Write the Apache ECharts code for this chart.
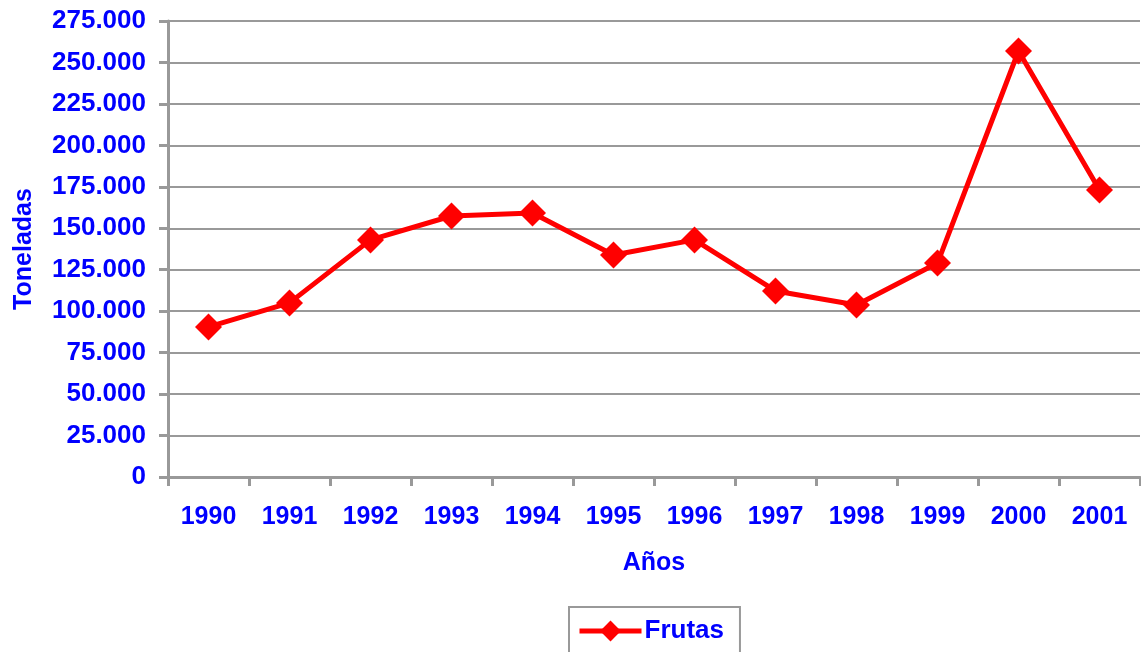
<!DOCTYPE html>
<html>
  <head>
    <title>Frutas</title>
    <meta charset="utf-8">
    <script type="text/javascript" src="https://cdn.jsdelivr.net/npm/echarts@6/dist/echarts.min.js"></script>
    <style>
      html, body { margin: 0; padding: 0; background: #fff; }
    </style>
  </head>
  <body>
    <div id="main" style="width: 1141px;height:652px;"></div>

    <script type="text/javascript">
    // datos
    var years = ['1990','1991','1992','1993','1994','1995','1996','1997','1998','1999','2000','2001'];
    var frutas = [90500, 105000, 143000, 157400, 159200, 133900, 143000, 112200, 103700, 129000, 256900, 173100];
    var yMax = 275000;
    var yStep = 25000;

    var blue = '#0000FF';
    var gray = '#999999';
    var font = '"Liberation Sans", Arial, sans-serif';

    function miles(v) {
      return String(v).replace(/\B(?=(\d{3})+(?!\d))/g, '.');
    }

    var myChart = echarts.init(document.getElementById('main'));
    var option = {
      animation: false,
      textStyle: { fontFamily: font },
      grid: { left: 168, right: 1, top: 21, bottom: 175, outerBoundsMode: 'none', containLabel: false },
      legend: {
        left: 569,
        top: 607,
        padding: [11, 16, 20, 8],
        borderColor: gray,
        borderWidth: 2,
        itemWidth: 62,
        itemHeight: 26,
        itemGap: 0,
        data: ['Frutas'],
        lineStyle: { width: 5 },
        textStyle: { color: blue, fontWeight: 'bold', fontSize: 26, fontFamily: font, padding: [0, 0, 0, -2] }
      },
      xAxis: {
        type: 'category',
        data: years,
        boundaryGap: true,
        name: 'Años',
        nameLocation: 'middle',
        nameGap: 74,
        nameTextStyle: { color: blue, fontWeight: 'bold', fontSize: 25, fontFamily: font },
        axisLine: { lineStyle: { color: gray, width: 3 } },
        axisTick: { show: true, length: 9, alignWithLabel: false, lineStyle: { color: gray, width: 3 } },
        axisLabel: { color: blue, fontWeight: 'bold', fontSize: 25, margin: 28, fontFamily: font },
        splitLine: { show: false }
      },
      yAxis: {
        type: 'value',
        min: 0,
        max: yMax,
        interval: yStep,
        name: 'Toneladas',
        nameLocation: 'middle',
        nameRotate: 90,
        nameGap: 131,
        nameTextStyle: { color: blue, fontWeight: 'bold', fontSize: 25, fontFamily: font },
        axisLine: { show: true, lineStyle: { color: gray, width: 3 } },
        axisTick: { show: true, length: 9, lineStyle: { color: gray, width: 3 } },
        axisLabel: {
          color: blue, fontWeight: 'bold', fontSize: 26, margin: 22, fontFamily: font,
          formatter: function (v) { return miles(v); }
        },
        splitLine: { show: true, lineStyle: { color: gray, width: 2 } }
      },
      series: [
        {
          name: 'Frutas',
          type: 'line',
          data: frutas,
          symbol: 'diamond',
          symbolSize: 27,
          itemStyle: { color: '#FF0000' },
          lineStyle: { color: '#FF0000', width: 5 }
        }
      ]
    };
    myChart.setOption(option, true);
    </script>
  </body>
</html>
